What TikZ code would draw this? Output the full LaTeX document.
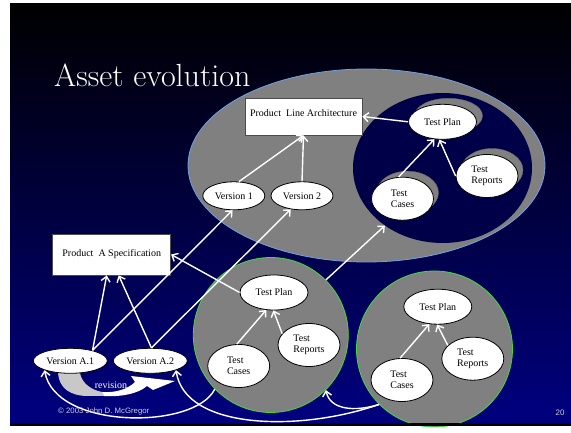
\documentclass[tikz,border=0pt]{standalone}
\usepackage{fontspec}
\newfontfamily\timesfont{Liberation Serif}
\newfontfamily\arialfont{Liberation Sans}
\usetikzlibrary{shapes.geometric,arrows.meta}

\definecolor{slidegray}{RGB}{128,128,128}
\definecolor{slidenavy}{RGB}{0,0,128}
\definecolor{innernavy}{RGB}{0,0,72}
\definecolor{rimblue}{RGB}{110,160,230}
\definecolor{rimgreen}{RGB}{60,220,60}
\definecolor{revgray}{RGB}{200,200,200}
\definecolor{notegray}{RGB}{205,205,215}

\begin{document}
\begin{tikzpicture}[x=1pt, y=-1pt,
  box/.style={rectangle, draw=black!70, fill=white, line width=0.8pt, inner sep=0pt,
    font=\timesfont\fontsize{10}{12}\selectfont},
  oval/.style={ellipse, draw=black, fill=white, line width=0.8pt, inner sep=0pt,
    align=left, font=\timesfont\fontsize{10}{11.5}\selectfont},
  plan/.style={oval, minimum width=68pt, minimum height=35pt},
  twoline/.style={oval, minimum width=62pt, minimum height=43pt},
  ver/.style={oval, minimum width=62pt, minimum height=28pt},
  verA/.style={oval, minimum width=74pt, minimum height=25pt},
  ghost/.style={ellipse, draw=black!60, fill=slidegray, inner sep=0pt},
  pool/.style={circle, draw=rimgreen, fill=slidegray, line width=0.8pt, minimum size=155pt, inner sep=0pt},
  link/.style={white, line width=1.4pt, -{Straight Barb[length=5pt,width=9pt]}}]

% slide background
\fill[white] (0,0) rectangle (571,426);
\shade[top color=black, bottom color=slidenavy] (10,4) rectangle (571,423);

\node [anchor=base west, inner sep=0pt, white, font=\fontsize{32}{38}\selectfont] (title) at (54,86.5) {Asset evolution};

% product line assets
\node [ellipse, draw=rimblue, fill=slidegray, line width=0.8pt, minimum width=357pt, minimum height=193pt] (big) at (366.5,165.5) {};
\node [ellipse, fill=innernavy, minimum width=179pt, minimum height=150pt] (inner) at (442.5,168) {};

\node [ghost, minimum width=68pt, minimum height=35pt] (tpGhost) at (448.5,115.8) {};
\node [ghost, minimum width=62pt, minimum height=43pt] (tcGhost) at (407.5,192.7) {};
\node [ghost, minimum width=62pt, minimum height=43pt] (trGhost) at (492,170) {};

\node [box, minimum width=117pt, minimum height=37pt, text height=11pt, text depth=10pt] (pla) at (303.5,116.5) {Product\ \ Line Architecture};
\node [plan] (tpTop) at (442.5,121.8) {Test Plan};
\node [twoline] (tcTop) at (402.5,198.7) {Test\\Cases};
\node [twoline] (trTop) at (487,176) {Test\\Reports};
\node [ver] (ver1) at (233.8,195.8) {Version 1};
\node [ver] (ver2) at (302,195.8) {Version 2};

% product assets
\node [pool] (circ1) at (270.8,335) {};
\node [pool, minimum size=156pt] (circ2) at (434.5,349) {};

\node [plan] (tp1) at (274,292.5) {Test Plan};
\node [twoline] (tc1) at (238.7,366) {Test\\Cases};
\node [twoline] (tr1) at (309,345) {Test\\Reports};

\node [plan] (tp2) at (437.8,306.7) {Test Plan};
\node [twoline] (tc2) at (402,380) {Test\\Cases};
\node [twoline] (tr2) at (472.8,358.7) {Test\\Reports};

\node [box, minimum width=118pt, minimum height=41pt] (pas) at (111.7,254.5) {Product\ \ A Specification};

% revision
\fill[revgray] (58,373) .. controls (59,388) and (70,396) .. (88,396) -- (104,396) -- (102,392)
  .. controls (92,390) and (82,384) .. (80,373) -- cycle;
\fill[white] (102,392) .. controls (116,393) and (128,389) .. (135,382) -- (131,376) -- (175,381)
  -- (153,390) -- (147,386) .. controls (138,394) and (120,397) .. (104,396) -- cycle;
\node [white, inner sep=0pt, font=\timesfont\fontsize{10}{12}\selectfont] (rev) at (111,385.5) {revision};

\node [verA] (verA1) at (70.3,360.8) {Version A.1};
\node [verA] (verA2) at (150.3,360.8) {Version A.2};

\draw[link] (ver1.70) -- (pla.south);
\draw[link] (ver2.north) -- (pla.south);
\draw[link] (tpTop.west) -- (pla.east);
\draw[link] (tcTop.100) -- (tpTop.245);
\draw[link] (trTop.west) -- (tpTop.260);

\draw[link] (tc1.95) -- (tp1.246);
\draw[link] (tr1.157) -- (tp1.268);
\draw[link] (tc2.95) -- (tp2.244);
\draw[link] (tr2.152) -- (tp2.268);
\draw[link] (tp1.west) -- (pas.east);
\draw[link] (circ1.45) -- (inner.225);

\draw[link] (verA1.25) -- ([xshift=-5pt]pas.south);
\draw[link] (verA2.85) -- ([xshift=7pt]pas.south);
\draw[link] (verA1.25) -- (ver1.265);
\draw[link] (verA2.85) -- (ver2.230);

\draw[link] (circ1.224) .. controls (195,430) and (55,430) .. (verA1.200);
\draw[link] (circ2.225) .. controls (300,432) and (185,430) .. (verA2.-20);
\draw[link] (circ2.225) .. controls (355,412) and (330,410) .. (circ1.-45);

\node [anchor=west, inner sep=0pt, notegray, font=\arialfont\fontsize{7.8}{9}\selectfont] (note) at (58,411) {© 2003 John D. McGregor};
\node [inner sep=0pt, notegray, font=\arialfont\fontsize{8}{9}\selectfont] (page) at (560,412.5) {20};

\fill[black] (10,423) rectangle (571,426);
\end{tikzpicture}
\end{document}
